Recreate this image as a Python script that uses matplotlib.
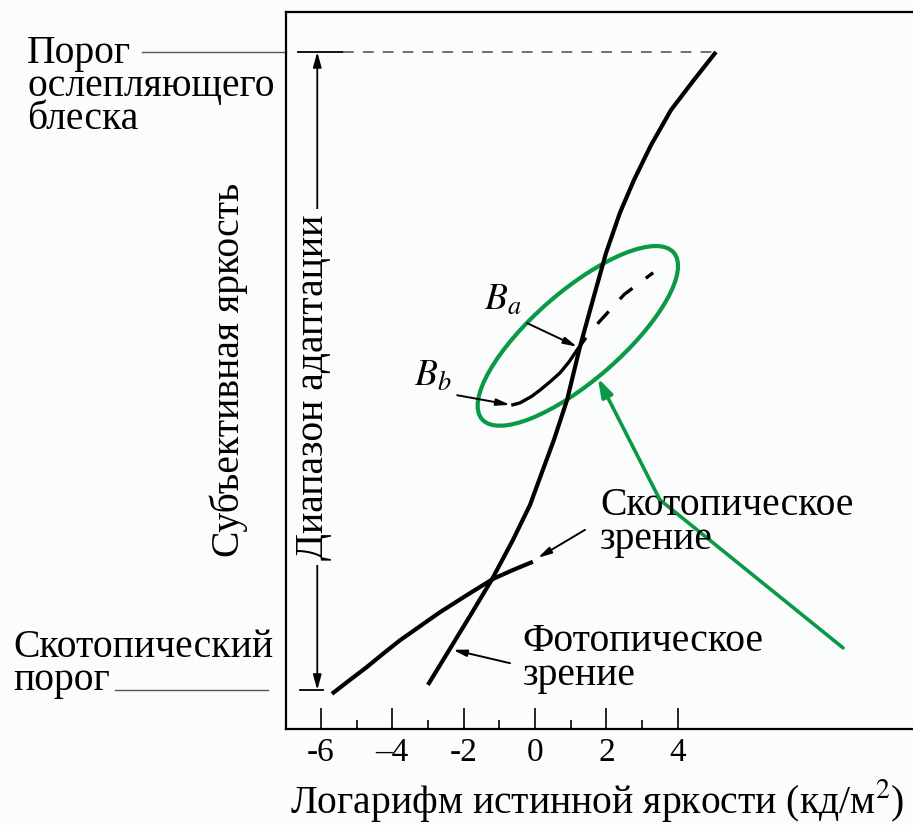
import matplotlib.pyplot as plt
from matplotlib.patches import Ellipse
from matplotlib.transforms import ScaledTranslation

plt.rcParams['font.family'] = ['Liberation Serif', 'DejaVu Serif']
plt.rcParams['mathtext.fontset'] = 'stix'

# log of true luminance (cd/m2) against subjective brightness
# (0 = scotopic threshold, 10 = glare limit)
photopic_x = [-3.00, -2.40, -1.80, -1.20, -0.62, -0.14, 0.22, 0.53, 0.90,
              1.26, 1.62, 1.99, 2.38, 2.77, 3.25, 3.81, 4.45, 5.07]
photopic_y = [0.08, 0.63, 1.18, 1.74, 2.35, 2.90, 3.45, 3.92, 4.55,
              5.38, 6.11, 6.85, 7.48, 7.99, 8.54, 9.09, 9.56, 10.0]

scotopic_x = [-5.69, -5.18, -4.71, -4.23, -3.78, -3.22, -2.66, -1.90, -1.18, -0.62, -0.06]
scotopic_y = [-0.06, 0.16, 0.36, 0.58, 0.78, 1.00, 1.22, 1.49, 1.74, 1.88, 2.01]

# brightness curve for an eye adapted to level Ba
local_x = [-0.62, -0.42, -0.10, 0.14, 0.42, 0.70, 0.95, 1.18, 1.40]
local_y = [4.47, 4.50, 4.60, 4.70, 4.83, 4.97, 5.14, 5.33, 5.50]
local_ext_x = [1.75, 2.50, 3.31]
local_ext_y = [5.74, 6.20, 6.54]

x_ticks = [-6, -4, -2, 0, 2, 4]
x_tick_labels = ['-6', '–4', '-2', '0', '2', '4']
x_minor_ticks = [-5, -3, -1, 1, 3]

glare_level = 10.0
scotopic_level = 0.0
adapt_x = -6.1

green = '#0a9a45'
bg = '#fbfdfc'
fs = 28.5

fig = plt.figure(figsize=(9.13, 8.25), dpi=100)
fig.patch.set_facecolor(bg)
ax = fig.add_axes([0.3133, 0.1164, 0.6867, 0.8691])
ax.set_facecolor(bg)
ax.set_xlim(-6.975, 10.59)
ax.set_ylim(-0.611, 10.627)

for side in ['left', 'bottom', 'top']:
    ax.spines[side].set_linewidth(1.6)
ax.spines['right'].set_visible(False)

ax.set_xticks(x_ticks)
ax.set_xticklabels(x_tick_labels)
ax.set_xticks(x_minor_ticks, minor=True)
ax.set_yticks([])
ax.tick_params(axis='x', which='major', direction='in', length=15, width=1.2,
               labelsize=24, pad=6)
ax.tick_params(axis='x', which='minor', direction='in', length=6.5, width=1.2)

# main curves
ax.plot(photopic_x, photopic_y, color='black', lw=3, solid_capstyle='butt',
        solid_joinstyle='round')
ax.plot(scotopic_x, scotopic_y, color='black', lw=3, solid_capstyle='butt',
        solid_joinstyle='round')
ax.plot(local_x, local_y, color='black', lw=2.4, solid_joinstyle='round')
ax.plot(local_ext_x, local_ext_y, color='black', lw=2.4, dashes=(5, 5))

# glare limit and scotopic threshold levels
ax.plot([-6.64, -5.38], [glare_level, glare_level], color='black', lw=1.3)
ax.plot([-5.38, photopic_x[-1]], [glare_level, glare_level], color='#666666',
        lw=1.3, dashes=(6, 5))
ax.plot([-6.58, -5.94], [scotopic_level, scotopic_level], color='black', lw=1.3)
ax.plot([-11.0, -6.98], [glare_level, glare_level], color='#555555', lw=1.0,
        clip_on=False)
ax.plot([-11.76, -7.48], [scotopic_level, scotopic_level], color='#555555',
        lw=1.0, clip_on=False)

# adaptation range
range_head = dict(arrowstyle='-|>,head_length=0.9,head_width=0.25',
                  color='black', lw=1.3, shrinkA=0, shrinkB=0)
ax.annotate('', xy=(adapt_x, glare_level), xytext=(adapt_x, 4.75),
            arrowprops=range_head)
ax.annotate('', xy=(adapt_x, scotopic_level), xytext=(adapt_x, 4.75),
            arrowprops=range_head)
ax.text(adapt_x - 0.1, 4.75, 'Диапазон адаптации', rotation=90, fontsize=fs,
        ha='center', va='center',
        bbox=dict(facecolor=bg, edgecolor='none', pad=4))

# pointers
arrow_kw = dict(arrowstyle='-|>,head_length=0.8,head_width=0.2',
                color='black', lw=1.4, shrinkA=0, shrinkB=0)
ax.text(-0.90, 6.11, '$B_a$', fontsize=27, ha='center', va='center')
ax.annotate('', xy=(1.18, 5.38), xytext=(-0.22, 5.75), arrowprops=arrow_kw)
ax.text(-2.86, 4.91, '$B_b$', fontsize=27, ha='center', va='center')
ax.annotate('', xy=(-0.70, 4.47), xytext=(-2.18, 4.62), arrowprops=arrow_kw)

ax.text(1.82, 3.18, 'Скотопическое\nзрение', fontsize=fs, ha='left', va='top',
        linespacing=0.9)
ax.annotate('', xy=(0.08, 2.07), xytext=(1.40, 2.51), arrowprops=arrow_kw)
ax.text(-0.34, 1.05, 'Фотопическое\nзрение', fontsize=fs, ha='left', va='top',
        linespacing=0.9)
ax.annotate('', xy=(-2.30, 0.63), xytext=(-0.70, 0.42), arrowprops=arrow_kw)

# highlight around the Ba/Bb region
ring = Ellipse((0, 0), width=2.54, height=0.89, angle=41, fill=False,
               edgecolor=green, lw=3,
               transform=fig.dpi_scale_trans + ScaledTranslation(1.20, 5.55, ax.transData))
ax.add_artist(ring)
ax.plot([8.63, 3.50], [0.66, 2.98], color=green, lw=2.6, solid_capstyle='round')
ax.annotate('', xy=(1.76, 4.89), xytext=(3.50, 2.98),
            arrowprops=dict(arrowstyle='-|>,head_length=1.1,head_width=0.35',
                            color=green, lw=2.6, shrinkA=0, shrinkB=0))

# labels outside the frame
fig.text(27 / 913, 1 - 35 / 825, 'Порог\nослепляющего\nблеска', fontsize=fs,
         ha='left', va='top', linespacing=0.85)
fig.text(13 / 913, 1 - 629 / 825, 'Скотопический\nпорог', fontsize=fs,
         ha='left', va='top', linespacing=0.85)
fig.text(229 / 913, 1 - 370 / 825, 'Субъективная яркость', fontsize=fs,
         rotation=90, ha='center', va='center')
fig.text(597 / 913, 1 - 800 / 825, 'Логарифм истинной яркости (кд/м$^2$)',
         fontsize=fs, ha='center', va='center')

fig.savefig('out.png', dpi=100, facecolor=fig.get_facecolor())
